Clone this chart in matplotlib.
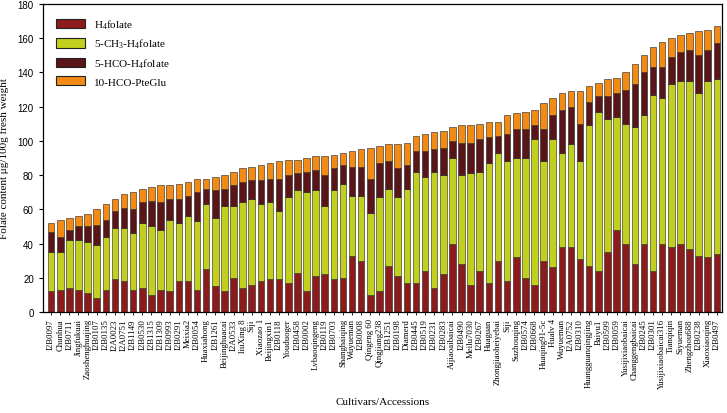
import matplotlib
matplotlib.use("Agg")
import matplotlib.pyplot as plt
import numpy as np

cultivars = ["I2B0097", "Chunhua", "I2B0711", "Jingfukuai", "Zaoshenghuajing", "I2B0107", "I2B0135",
             "I2A0023", "I2A0751", "I2B1149", "I2B0530", "I2B1315", "I2B1309", "I2B0993", "I2B0291",
             "Meixia2", "I2B0054", "Huaxiahong", "I2B1261", "Beijinghuacai", "I2A0533", "liuXing 8",
             "Siji", "Xiaozao 1", "Beijingxin1", "I2B0118", "Youduoger", "I2B0458", "I2B0002",
             "Lvbaoqingeng", "I2B0119", "I2B0703", "Shanghaiqing", "Wuyueman", "I2B0008", "Qingeng 60",
             "Qingjiang238", "I2B1251", "I2B0198", "Diamerd", "I2B0445", "I2B0519", "I2B0231", "I2B0283",
             "Aijiaoaibaicai", "I2B0490", "Meilu7030", "I2B0267", "Huaguan", "Zhongjiaoheiyebai", "Siji",
             "Suzhouqing", "I2B0574", "I2B0668", "Huaqing91-5c", "Hualv 4", "Wuyueman", "I2A0752",
             "I2B0310", "Huangguanqingjing", "Baiyu1", "I2B0599", "I2B0059", "Yusijixiaobaicai",
             "Changgengbaicai", "I2B0245", "I2B0301", "Yusijixiaobaicai316", "Tianqiqin", "Siyueman",
             "Zhengzhou688", "I2B0238", "Xiaoxiaoqing", "I2B0497"]

h4folate = [12, 13, 14, 13, 11, 8, 13, 19, 18, 13, 14, 10, 13, 12, 18, 18, 13, 25, 15, 12, 20, 14, 16, 18,
            19, 19, 17, 23, 12, 21, 22, 19, 20, 33, 30, 10, 12, 27, 21, 17, 17, 24, 14, 22, 40, 28, 16, 24,
            17, 30, 18, 32, 20, 16, 30, 26, 38, 38, 31, 27, 24, 35, 48, 40, 28, 40, 24, 40, 38, 40, 37, 33,
            32, 34]
ch3_h4folate = [23, 22, 28, 29, 30, 31, 31, 30, 31, 33, 38, 40, 35, 42, 34, 38, 40, 38, 40, 50, 42, 50, 50,
                45, 45, 40, 50, 48, 58, 50, 40, 52, 55, 35, 38, 48, 55, 45, 46, 55, 65, 55, 68, 58, 50, 52,
                65, 58, 70, 63, 70, 58, 70, 85, 58, 75, 55, 60, 57, 82, 93, 78, 66, 70, 80, 75, 103, 85, 95,
                95, 98, 95, 103, 102]
hco_h4folate = [12, 9, 6, 8, 9, 12, 10, 10, 12, 14, 12, 15, 16, 12, 14, 12, 17, 9, 16, 10, 12, 12, 11, 14,
                14, 19, 13, 10, 12, 12, 18, 13, 11, 17, 17, 20, 20, 16, 17, 14, 12, 15, 13, 16, 10, 19, 18,
                19, 15, 10, 16, 17, 17, 8, 19, 14, 25, 22, 22, 14, 9, 13, 14, 20, 25, 25, 16, 18, 16, 17,
                18, 22, 18, 21]
hco_pteglu = [5, 10, 7, 6, 7, 9, 9, 7, 8, 10, 8, 8, 10, 8, 9, 8, 8, 6, 8, 8, 8, 8, 8, 9, 9, 10, 9, 8, 8, 8,
              11, 8, 7, 9, 10, 18, 10, 10, 14, 13, 9, 10, 10, 10, 8, 10, 10, 9, 9, 8, 11, 9, 10, 9, 15, 10,
              10, 9, 19, 9, 8, 10, 9, 10, 12, 10, 12, 15, 11, 10, 10, 14, 12, 10]

series_names = ["H$_4$folate", "5-CH$_3$-H$_4$folate", "5-HCO-H$_4$folate", "10-HCO-PteGlu"]
colors = ["#8c1c1c", "#c3cf1e", "#5a1518", "#f28a14"]

plt.rcParams["mathtext.fontset"] = "custom"
plt.rcParams["mathtext.rm"] = "Liberation Serif"
plt.rcParams["mathtext.it"] = "Liberation Serif:italic"

fig = plt.figure(figsize=(7.27, 4.14), dpi=100)
ax = fig.add_axes([0.059, 0.244, 0.934, 0.744])

x = np.arange(len(cultivars))
bottom = np.zeros(len(cultivars))
for vals, name, c in zip([h4folate, ch3_h4folate, hco_h4folate, hco_pteglu], series_names, colors):
    v = np.array(vals, dtype=float)
    ax.bar(x, v, bottom=bottom, width=0.72, color=c, edgecolor="#222222", linewidth=0.4, label=name)
    bottom += v

ax.set_xlim(-0.9, len(cultivars) - 0.45)
ax.set_ylim(0, 180)
ax.set_yticks(np.arange(0, 181, 20))
ax.tick_params(axis="y", labelsize=7, length=3, width=0.8)
for lab in ax.get_yticklabels():
    lab.set_fontfamily("Liberation Sans")
ax.set_xticks(x)
ax.set_xticklabels(cultivars, rotation=90, fontsize=6.3, fontfamily="Liberation Serif")
ax.tick_params(axis="x", length=2.5, width=0.6, pad=2)
for s in ax.spines.values():
    s.set_linewidth(0.9)

ax.set_ylabel("Folate content μg/100g fresh weight", fontsize=8, fontfamily="Liberation Serif", labelpad=6)
ax.set_xlabel("Cultivars/Accessions", fontsize=8, fontfamily="Liberation Serif", labelpad=6)

leg = ax.legend(loc="upper left", frameon=False, prop={"family": "Liberation Serif", "size": 8},
                handlelength=2.6, handleheight=0.9, borderaxespad=0.8, labelspacing=0.55)
for h in leg.legend_handles:
    h.set_edgecolor("#222222")
    h.set_linewidth(0.8)

fig.savefig("out.png", dpi=100)
